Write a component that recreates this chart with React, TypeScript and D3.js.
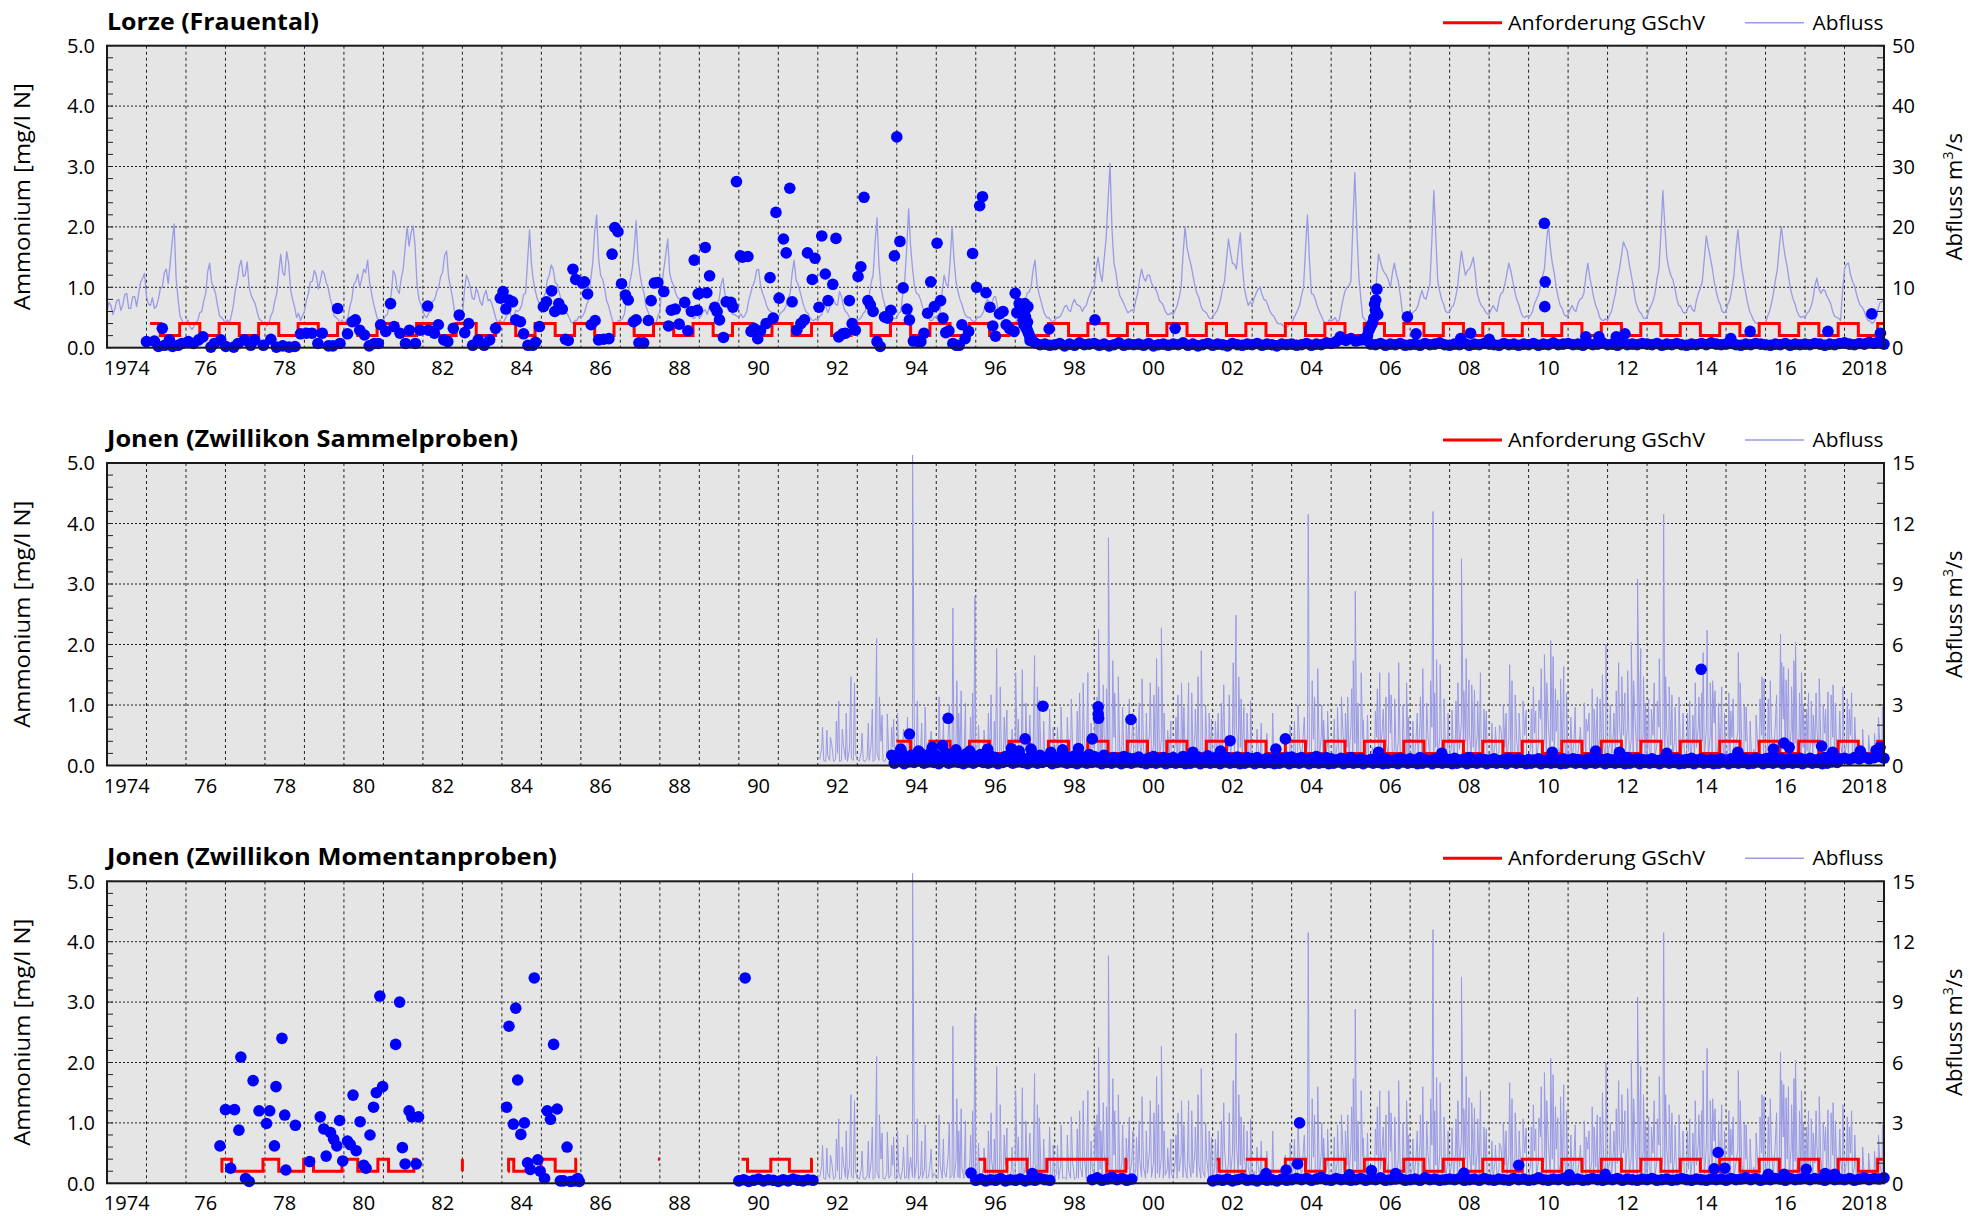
import React from "react";
import * as d3 from "d3";

type P = [number, number];

// ---------------- DATA ----------------
const xTickYears = [1974, 1976, 1978, 1980, 1982, 1984, 1986, 1988, 1990, 1992, 1994, 1996, 1998, 2000, 2002, 2004, 2006, 2008, 2010, 2012, 2014, 2016, 2018];
const xTickLabels = ["1974", "76", "78", "80", "82", "84", "86", "88", "90", "92", "94", "96", "98", "00", "02", "04", "06", "08", "10", "12", "14", "16", "2018"];
const leftTicks = [0, 1, 2, 3, 4, 5];
const leftTickLabels = ["0.0", "1.0", "2.0", "3.0", "4.0", "5.0"];
const lorzeFlowTicks = [0, 10, 20, 30, 40, 50];
const jonenFlowTicks = [0, 3, 6, 9, 12, 15];

// Lorze discharge (m3/s), every 0.1 year from 1974.0
const lorzeFlowStart = 1974;
const lorzeFlowStep = 0.1;
const lorzeFlow = [
  6, 7, 6.5, 8, 7, 9, 6.5, 8.5, 9, 11.5,
  8.5, 7, 6.5, 8, 10, 13, 14, 20.5, 8, 4.5,
  4, 3.5, 3.5, 4.5, 6, 9, 14, 10, 7, 5,
  4, 4, 7, 11, 14.5, 12, 10, 8, 6, 4.5,
  4, 4, 6, 9, 15.5, 12, 14, 8, 5, 4.5,
  6, 9, 11, 12, 11, 12.3, 10, 7, 5, 4,
  4, 5, 8, 11, 10, 13, 14.5, 9, 6, 4.5,
  4.5, 5.5, 9, 12, 9, 13, 20, 19, 17, 8,
  6, 5, 6, 8, 10, 12.5, 16, 10, 6, 4,
  5, 12, 10, 8, 9, 7, 9.5, 8, 6, 4,
  4, 5, 6, 5, 6, 7, 9, 19.5, 11, 8,
  7, 9, 12, 13, 10.5, 8, 6, 5, 4, 4.5,
  5, 6, 8, 14, 22, 12, 10, 7, 4.5, 4,
  4.5, 5.5, 9, 13, 21, 12, 9, 6, 4.5, 4,
  6, 13, 18, 11, 9, 8, 7, 6, 5.5, 5,
  5, 6, 5.5, 7, 6, 8, 11.5, 8, 6, 5.5,
  5, 5, 6, 9, 11, 13, 9, 7, 6, 5,
  5, 6, 7, 9, 14.5, 10.5, 8, 6, 5, 4.5,
  4.5, 5.5, 7, 6.5, 8, 7, 8.5, 6, 5, 4.5,
  4.5, 5, 6, 8.5, 12, 21.5, 10, 7, 5, 5,
  5, 6, 11, 23, 13, 9, 8, 6, 5, 4.5,
  5, 6, 12, 10, 20, 11, 8, 6, 5, 4.5,
  4.5, 5, 6, 8, 7, 8.5, 6, 5, 4.5, 4,
  4, 5, 6, 9, 10, 14.5, 9, 6.5, 5, 4.5,
  4.5, 5, 6, 7, 6, 8, 7, 6, 7, 9,
  10, 15, 11, 18, 30.5, 14, 10, 8, 6.5, 6,
  6, 9, 13, 11, 12, 10, 9, 7.5, 6, 5.5,
  5.5, 7, 10, 20, 15, 12, 9, 7, 6, 5,
  5, 6, 8, 11, 18, 14, 13, 19, 10, 7,
  7, 9, 10, 8, 7, 5.5, 4.5, 4, 3.5, 3.5,
  4, 5.5, 7, 10, 22, 9, 8, 6, 4.5, 4,
  4.5, 5, 4.5, 8, 10, 11, 29, 12, 5, 4,
  4, 6, 15.5, 13, 12, 10, 14, 11, 6, 5,
  5, 6, 7, 9.5, 8, 10.5, 26, 11, 8, 6,
  6, 7, 10, 16, 12, 13, 15, 9, 7, 6,
  5.5, 7, 6, 9, 10.5, 14, 11, 8, 6, 5,
  5, 6, 8, 10, 13, 20.5, 14, 10, 7, 5.5,
  5.5, 7, 6, 8, 9, 14, 10, 7, 5, 4.5,
  4.5, 6, 9, 13, 17.5, 16, 12, 8, 6, 5,
  5, 7, 9, 13, 26, 15, 12, 10, 7, 6,
  6, 7, 6, 9, 11, 18.5, 15, 11, 8, 6,
  6, 8, 12, 19.5, 13, 9, 6, 4.5, 4, 4,
  4, 6, 9, 13, 20, 15, 11, 8, 6, 5,
  5, 6, 8, 11.5, 9, 9.5, 8, 6, 5, 4.5,
  13, 14, 11, 9, 7, 6, 4.5, 4, 5, 7.5,
  8,
];
// Lorze discharge between the values above (at 1974.05, 1974.15, ...)
const lorzeFlowMidStart = 1974.05;
const lorzeFlowMid = [
  7.5, 5.5, 7.8, 6.2, 8.8, 6.5, 8.4, 6.8, 10.8, 12.3,
  7.2, 8.3, 6.8, 9.8, 12.4, 10.6, 17.5, 11.5, 5.2, 3.8,
  4.6, 3.0, 4.2, 5.8, 7.8, 12.6, 10.8, 8.9, 5.3, 4.6,
  4.6, 5.4, 9.5, 13.4, 11.8, 14.2, 8.7, 7.3, 4.8, 4.2,
  3.6, 5.3, 7.8, 12.5, 12.4, 15.9, 9.6, 6.8, 5.7, 5.3,
  7.8, 10.9, 12.8, 9.7, 12.7, 10.8, 8.2, 5.3, 4.7, 4.6,
  4.4, 6.8, 10.5, 12.2, 11.4, 12.4, 10.8, 7.3, 4.8, 4.1,
  5.3, 7.2, 12.8, 9.6, 11.4, 16.5, 16.8, 20.2, 10.6, 7.2,
  5.3, 5.8, 7.7, 9.3, 11.8, 15.3, 11.7, 8.3, 4.8, 4.7,
  9.4, 11.2, 8.2, 9.8, 7.6, 8.7, 7.8, 7.2, 4.8, 4.6,
  4.3, 5.7, 4.8, 6.2, 6.3, 8.8, 14.3, 13.7, 9.3, 7.4,
  8.3, 11.2, 13.7, 10.8, 9.2, 6.8, 5.7, 4.3, 4.5, 5.2,
  5.3, 7.2, 11.3, 19.2, 14.8, 11.3, 7.8, 5.7, 3.8, 4.5,
  4.8, 7.7, 11.2, 16.3, 14.7, 10.2, 6.8, 5.2, 3.9, 5.2,
  10.2, 15.4, 12.3, 10.3, 8.3, 7.8, 6.3, 6.0, 4.8, 5.5,
  5.3, 6.3, 6.7, 6.3, 7.3, 10.4, 8.8, 7.3, 5.5, 5.2,
  5.6, 5.3, 7.8, 10.2, 12.8, 10.3, 8.2, 6.3, 5.8, 4.8,
  5.7, 6.3, 8.2, 12.3, 11.2, 9.3, 6.8, 5.7, 4.6, 4.8,
  5.2, 6.8, 5.8, 7.8, 7.2, 9.3, 6.8, 5.7, 4.6, 4.8,
  4.7, 5.7, 7.3, 10.8, 17.2, 13.6, 8.3, 5.8, 5.5, 4.8,
  5.7, 8.7, 16.2, 16.8, 10.2, 8.8, 6.8, 5.7, 4.5, 5.1,
  5.4, 9.3, 10.6, 14.2, 14.6, 9.3, 7.2, 5.3, 5.0, 4.3,
  5.1, 5.4, 7.3, 7.2, 8.3, 6.8, 5.6, 4.6, 4.4, 3.8,
  4.7, 5.3, 7.7, 9.2, 12.8, 10.6, 7.8, 5.5, 5.0, 4.3,
  5.0, 5.3, 6.8, 6.2, 7.3, 7.2, 6.8, 6.7, 8.2, 9.8,
  13.2, 12.3, 14.6, 24.3, 19.6, 12.4, 8.6, 7.3, 5.8, 6.3,
  7.8, 11.4, 11.6, 12.0, 10.7, 9.8, 7.8, 7.0, 5.5, 5.8,
  6.2, 8.3, 15.4, 16.6, 13.7, 10.2, 8.3, 6.2, 5.7, 4.8,
  5.6, 6.8, 9.8, 14.6, 15.8, 13.8, 16.3, 13.7, 8.3, 7.6,
  8.2, 9.7, 8.8, 7.8, 6.0, 5.2, 4.0, 3.9, 3.3, 4.0,
  4.8, 6.2, 8.7, 16.3, 14.6, 8.8, 6.8, 5.3, 4.0, 4.6,
  4.6, 4.3, 6.3, 9.3, 10.2, 20.3, 19.6, 8.2, 4.7, 3.8,
  5.2, 11.3, 14.2, 12.4, 11.2, 12.3, 12.2, 8.8, 5.3, 5.2,
  5.7, 6.3, 8.4, 8.3, 9.3, 17.7, 18.4, 9.3, 7.2, 5.8,
  6.7, 8.3, 13.2, 13.8, 12.8, 13.8, 12.3, 7.8, 6.7, 5.6,
  6.3, 6.4, 7.8, 9.2, 12.3, 12.7, 9.3, 7.2, 5.2, 5.3,
  5.4, 7.3, 8.8, 11.8, 17.3, 16.6, 12.3, 8.3, 6.5, 5.2,
  6.3, 6.3, 7.3, 8.2, 11.8, 11.6, 8.3, 6.2, 4.6, 4.8,
  5.4, 7.6, 11.4, 15.2, 16.7, 13.8, 10.2, 6.8, 5.7, 4.8,
  6.3, 7.7, 11.3, 18.8, 20.2, 13.2, 11.3, 8.2, 6.8, 5.7,
  6.8, 6.3, 7.8, 9.8, 14.8, 16.6, 13.2, 9.3, 7.2, 5.8,
  7.3, 9.8, 16.3, 15.8, 11.2, 7.3, 5.3, 4.1, 4.2, 3.8,
  5.2, 7.3, 11.2, 16.8, 17.2, 13.3, 9.2, 7.2, 5.3, 5.2,
  5.7, 6.8, 10.3, 9.8, 9.6, 8.6, 7.3, 5.2, 4.9, 9.2,
  13.8, 12.2, 10.3, 7.8, 6.7, 5.0, 4.4, 4.3, 6.4, 7.6,
];

// Jonen discharge (m3/s), every 0.05 year from 1992.05
const jonenFlowStart = 1992.05;
const jonenFlowStep = 0.05;
const jonenFlow = [
  .3, .9, .25, .2, .5, .25, 1.1, .2, .3, .6, .2, .25, 1.0, .3, .2, .8, .35, .25, .6,
  .3, .2, .7, .25, .2, .4, .25, 1.0, .2, .3, .6, .25, 1.2, .25, .2, .5, .25, .4, .9, .25,
  .25, .5, .2, .8, .25, .3, .2, 1.3, .3, .25, 1.0, .2, .4, .25, .7, .25, .3, 1.1, .25, .5,
  .3, .25, .9, .25, .6, .3, 1.4, .25, .4, .25, 1.1, .3, .25, .8, .25, .5, .3, 1.0, .25, .4,
  .25, .6, .2, .3, .9, .25, .5, .2, 1.2, .3, .25, .7, .2, .4, .25, .9, .2, .3, .6, .25,
  .3, 1.1, .25, .5, .25, .8, .3, 1.5, .25, .4, 1.0, .25, .3, .7, .2, .4, .25, .9, .3, .25,
  .25, .5, .2, .9, .25, .3, .2, .6, .25, 1.1, .2, .3, .25, .8, .3, 1.3, .25, .5, .25, .7,
  .35, 1.2, .3, .7, .35, 1.5, .3, .9, .3, .6, 1.4, .25, .5, .3, 1.0, .25, .4, .7, .3, 1.1,
  .3, .6, .25, 1.2, .3, .8, .25, .5, 1.6, .3, 1.0, .25, .5, .3, 1.3, .25, .4, .7, .25, .5,
  .3, 1.0, .25, .6, 1.4, .3, .8, .25, 1.1, .3, .5, 1.6, .3, .9, .25, .6, .3, 1.2, .25, .4,
  .25, .7, .3, 1.3, .25, .6, 1.7, .3, 1.0, .35, 1.5, .3, 2.0, .35, .9, .3, 1.4, .25, .8, .3,
  .25, .6, .2, .9, .25, .4, .2, .3, .5, .2, .25, .15, .3, .2, .25, .15, .4, .2, .7, .25,
  .3, .8, .25, .5, 1.1, .25, 1.8, .3, 1.0, .25, .6, 1.3, .25, .7, .3, 1.5, .25, .5, .9, .3,
  .25, .6, .25, 1.0, .3, .5, 1.6, .25, .9, .3, 1.9, .35, 1.1, .3, .7, .25, 1.3, .3, .6, .25,
  .3, .9, .25, 1.4, .3, .7, 2.0, .3, 1.1, .35, 1.6, .3, .8, .25, 1.2, .3, .6, 1.0, .25, .5,
  .3, .7, .25, 1.3, .3, 2.1, .35, 1.0, .3, 1.5, .35, 1.9, .3, .9, .25, 1.4, .3, .7, .25, 1.1,
  .3, 1.0, .25, 1.5, .3, .8, 2.2, .35, 1.2, .3, 1.7, .35, .9, .3, 1.6, .25, .7, .3, 1.1, .25,
  .25, .6, .25, 1.1, .3, .7, 1.8, .3, .9, .25, 1.4, .3, .6, .25, 1.2, .3, .8, .25, 1.5, .3,
  .3, .9, .25, 1.6, .35, 1.1, 2.3, .35, 1.3, .4, 2.0, .35, 1.2, .3, 1.7, .3, .9, .3, 1.4, .3,
  .25, .7, .25, 1.2, .3, .6, 1.5, .25, .9, .3, 1.7, .3, 1.1, .25, .8, .3, 1.6, .3, 1.0, .25,
  .3, 1.1, .3, 1.7, .35, 1.0, 2.2, .35, 1.5, .4, 1.9, .35, 1.3, .3, 2.1, .35, 1.2, .3, 1.6, .3,
  .3, .9, .3, 1.5, .35, 1.1, 1.9, .35, 1.3, .3, 1.7, .3, 1.0, .3, 1.4, .25, .8, .3, 1.2, .25,
  .25, .7, .25, 1.3, .3, .9, 2.0, .35, 1.2, .3, 1.8, .35, 1.5, .3, 2.1, .3, 1.0, .3, 1.4, .25,
  .3, .8, .25, 1.4, .3, 1.0, 1.7, .3, .9, .25, 1.2, .25, .6, .2, .8, .25, 1.1, .3, 1.5, .3,
  .3, 1.0, .3, 1.6, .35, 2.1, .4, 1.4, .35, 2.3, .4, 1.2, .35, 1.8, .3, 1.1, .3, 1.5, .3, .9,
  .25, .7, .25, 1.3, .3, 1.0, 1.9, .3, 1.2, .3, 1.6, .3, .9, .25, 1.4, .3, .8, .25, 1.2, .3,
  .3, 1.1, .3, 1.5, .3, .8, .25, .6, .25, .4, .2, .3, .2, .5, .2, .3, .6, .25, .9, .35,
  2.8,
];
// Jonen flood peaks [year, m3/s]
const jonenPeaks: P[] = [
  [1992.12, 1.9], [1992.23, 1.75], [1992.53, 3.2], [1992.84, 4.4], [1992.93, 4.1], [1993.28, 2.1], [1993.49, 6.3],
  [1993.63, 2.5], [1993.76, 2.55], [1994.02, 2.6], [1994.4, 15.4], [1994.63, 2.1], [1995.07, 3.4], [1995.42, 7.8],
  [1995.63, 3.7], [1995.74, 3.1], [1995.98, 8.4], [1996.21, 1.75], [1996.39, 3.5], [1996.53, 5.8], [1996.79, 2.75],
  [1997.01, 4.6], [1997.18, 4.75], [1997.49, 5.45], [1997.61, 3.25], [1997.96, 1.9], [1998.16, 2.9], [1998.72, 4.1],
  [1998.84, 4.6], [1999.02, 2.9], [1999.11, 6.75], [1999.23, 4.0], [1999.36, 11.3], [1999.61, 4.4], [1999.81, 2.25],
  [1999.98, 2.6], [2000.21, 4.3], [2000.51, 3.5], [2000.7, 6.8], [2000.86, 1.75], [2001.12, 3.5], [2001.21, 4.1],
  [2001.39, 4.1], [2001.71, 5.7], [2001.91, 2.6], [2002.14, 2.6], [2002.59, 7.45], [2002.79, 2.9], [2003.23, 2.1],
  [2003.84, 1.4], [2004.42, 12.45], [2004.81, 2.25], [2005.26, 3.4], [2005.42, 3.4], [2005.61, 8.65], [2005.81, 2.25],
  [2006.23, 4.6], [2006.39, 3.4], [2006.61, 3.3], [2006.91, 4.1], [2007.18, 2.6], [2007.58, 12.6], [2007.67, 5.25],
  [2008.06, 2.75], [2008.3, 10.25], [2008.49, 4.25], [2008.63, 3.75], [2008.93, 2.7], [2009.26, 2.0], [2009.52, 5.0],
  [2009.94, 2.75], [2010.26, 3.25], [2010.4, 5.5], [2010.56, 6.2], [2010.74, 3.25], [2010.89, 4.9], [2011.18, 2.9],
  [2011.53, 2.6], [2011.74, 3.4], [2011.96, 6.0], [2012.36, 4.4], [2012.6, 6.1], [2012.76, 9.25], [2012.84, 5.8],
  [2013.11, 2.8], [2013.42, 12.45], [2013.63, 3.5], [2014.02, 2.6], [2014.31, 3.4], [2014.52, 6.7], [2014.6, 4.1],
  [2014.89, 3.9], [2015.31, 5.6], [2015.51, 2.9], [2015.96, 4.3], [2016.38, 6.5], [2016.46, 4.9], [2016.52, 4.25],
  [2016.76, 6.1], [2016.91, 4.6], [2017.09, 3.6], [2017.28, 3.6], [2017.58, 3.65], [2017.71, 4.0], [2017.96, 3.9],
  [2018.86, 2.4],
];
// smaller Jonen freshets [year, m3/s]
const jonenFreshets: P[] = [
  [1992.32, 1.4], [1992.47, 2.2], [1992.62, 1.8], [1992.72, 2.6],
  [1993.12, 1.6], [1993.38, 2.8], [1993.56, 3.4], [1993.87, 1.9], [1993.92, 2.3],
  [1994.17, 1.8], [1994.27, 2.4], [1994.52, 3.2], [1994.72, 2.9], [1994.87, 1.7],
  [1995.18, 2.2], [1995.33, 3.0], [1995.52, 4.2], [1995.57, 2.6], [1995.87, 2.4], [1995.92, 3.6],
  [1996.07, 2.0], [1996.32, 2.6], [1996.47, 2.2], [1996.62, 3.9], [1996.72, 2.4], [1996.92, 1.8],
  [1997.08, 2.3], [1997.27, 3.1], [1997.37, 2.5], [1997.56, 3.9], [1997.72, 2.2], [1997.87, 2.8],
  [1998.07, 1.9], [1998.32, 2.4], [1998.42, 3.3], [1998.57, 2.7], [1998.63, 3.6], [1998.92, 2.1],
  [1999.07, 3.4], [1999.17, 2.6], [1999.31, 3.8], [1999.47, 5.2], [1999.52, 3.6], [1999.72, 2.9], [1999.89, 3.3],
  [2000.07, 2.3], [2000.14, 3.1], [2000.32, 2.6], [2000.42, 4.1], [2000.58, 5.3], [2000.63, 3.9], [2000.77, 2.6], [2000.94, 2.2],
  [2001.07, 2.4], [2001.27, 2.9], [2001.47, 3.6], [2001.56, 2.8], [2001.63, 4.4], [2001.82, 3.0], [2001.97, 2.3],
  [2002.07, 2.2], [2002.22, 3.1], [2002.28, 4.0], [2002.42, 3.5], [2002.52, 5.1], [2002.66, 4.4], [2002.72, 3.3], [2002.87, 2.6], [2002.96, 3.2],
  [2003.12, 1.8], [2003.37, 1.6], [2003.52, 2.6], [2003.96, 2.0],
  [2004.07, 2.2], [2004.16, 3.0], [2004.32, 2.4], [2004.52, 4.2], [2004.58, 3.4], [2004.66, 4.8], [2004.76, 3.0], [2004.91, 2.7],
  [2005.08, 2.3], [2005.16, 2.9], [2005.36, 2.6], [2005.52, 3.8], [2005.56, 5.2], [2005.68, 3.1], [2005.76, 4.6], [2005.92, 2.5],
  [2006.12, 2.7], [2006.17, 3.8], [2006.32, 2.8], [2006.46, 4.6], [2006.52, 3.5], [2006.71, 5.1], [2006.82, 3.0], [2006.96, 2.4],
  [2007.07, 2.2], [2007.26, 3.4], [2007.32, 4.8], [2007.42, 3.1], [2007.52, 4.2], [2007.62, 3.6], [2007.76, 5.0], [2007.86, 3.3], [2007.96, 2.6],
  [2008.16, 3.2], [2008.21, 4.1], [2008.36, 3.7], [2008.42, 5.3], [2008.56, 4.0], [2008.71, 3.2], [2008.78, 4.6], [2008.87, 2.8],
  [2009.07, 2.1], [2009.16, 1.9], [2009.36, 3.0], [2009.43, 2.6], [2009.58, 4.2], [2009.66, 3.5], [2009.76, 2.6], [2009.86, 3.2],
  [2010.07, 2.8], [2010.12, 3.9], [2010.18, 2.7], [2010.32, 4.8], [2010.46, 4.1], [2010.62, 5.4], [2010.68, 3.8], [2010.81, 4.3], [2010.96, 3.6],
  [2011.07, 2.4], [2011.31, 1.9], [2011.41, 3.1], [2011.46, 2.3], [2011.61, 3.8], [2011.66, 2.8], [2011.81, 3.3], [2011.87, 4.5],
  [2012.07, 3.0], [2012.16, 2.6], [2012.22, 3.7], [2012.28, 5.1], [2012.44, 3.6], [2012.51, 4.7], [2012.66, 4.2], [2012.91, 4.4], [2012.96, 3.1],
  [2013.04, 3.3], [2013.18, 4.1], [2013.26, 3.2], [2013.31, 5.3], [2013.47, 4.4], [2013.56, 3.9], [2013.71, 2.9], [2013.81, 3.4], [2013.91, 2.6],
  [2014.08, 3.2], [2014.16, 2.5], [2014.22, 4.1], [2014.38, 3.6], [2014.42, 5.6], [2014.66, 4.2], [2014.72, 3.7], [2014.81, 3.1], [2014.96, 2.6],
  [2015.07, 3.6], [2015.12, 2.7], [2015.18, 3.3], [2015.36, 4.1], [2015.46, 3.0], [2015.61, 2.2], [2015.76, 2.5], [2015.86, 3.3], [2015.91, 4.4],
  [2016.07, 3.3], [2016.12, 4.2], [2016.28, 3.5], [2016.41, 5.1], [2016.58, 4.8], [2016.66, 3.9], [2016.72, 5.2], [2016.86, 3.6], [2016.96, 3.0],
  [2017.04, 2.8], [2017.16, 3.2], [2017.21, 2.5], [2017.36, 4.3], [2017.46, 3.0], [2017.52, 2.8], [2017.66, 3.5], [2017.77, 3.1], [2017.88, 2.7],
  [2018.07, 3.3], [2018.12, 2.8], [2018.18, 3.6], [2018.26, 2.4], [2018.46, 1.8], [2018.61, 1.5], [2018.76, 1.6], [2018.96, 2.9],
];

// Lorze ammonium samples [year, mg/l N]
const lorzeSamples: P[] = [
  [1975.0, 0.1], [1975.2, 0.11], [1975.3, 0.02], [1975.4, 0.32], [1975.46, 0.04], [1975.58, 0.13], [1975.66, 0.02], [1975.8, 0.04],
  [1975.9, 0.07], [1976.06, 0.1], [1976.19, 0.07], [1976.32, 0.13], [1976.43, 0.18], [1976.63, 0.01], [1976.72, 0.07], [1976.88, 0.13],
  [1977.01, 0.02], [1977.21, 0.01], [1977.32, 0.07], [1977.48, 0.13], [1977.64, 0.04], [1977.74, 0.13], [1977.96, 0.04], [1978.15, 0.14],
  [1978.29, 0.01], [1978.45, 0.03], [1978.61, 0.01], [1978.76, 0.02], [1978.9, 0.23], [1979.05, 0.24], [1979.19, 0.24], [1979.34, 0.07],
  [1979.45, 0.24], [1979.61, 0.03], [1979.72, 0.03], [1979.84, 0.65], [1979.9, 0.07], [1980.09, 0.23], [1980.21, 0.43], [1980.29, 0.46],
  [1980.4, 0.29], [1980.52, 0.21], [1980.64, 0.03], [1980.77, 0.07], [1980.87, 0.07], [1980.93, 0.38], [1981.06, 0.27], [1981.18, 0.73],
  [1981.27, 0.35], [1981.42, 0.24], [1981.56, 0.07], [1981.66, 0.29], [1981.81, 0.07], [1981.93, 0.29], [1982.12, 0.69], [1982.14, 0.29],
  [1982.29, 0.24], [1982.39, 0.38], [1982.53, 0.13], [1982.63, 0.1], [1982.77, 0.32], [1982.92, 0.54], [1983.06, 0.25], [1983.16, 0.4],
  [1983.26, 0.04], [1983.4, 0.13], [1983.55, 0.04], [1983.69, 0.13], [1983.84, 0.32], [1983.96, 0.82], [1984.03, 0.93], [1984.1, 0.64],
  [1984.18, 0.79], [1984.27, 0.76], [1984.35, 0.46], [1984.47, 0.43], [1984.55, 0.23], [1984.66, 0.04], [1984.78, 0.04], [1984.85, 0.09],
  [1984.95, 0.35], [1985.05, 0.68], [1985.13, 0.76], [1985.26, 0.94], [1985.34, 0.6], [1985.44, 0.73], [1985.53, 0.64], [1985.61, 0.14],
  [1985.68, 0.12], [1985.8, 1.3], [1985.87, 1.13], [1986.04, 1.07], [1986.09, 1.09], [1986.17, 0.89], [1986.26, 0.38], [1986.36, 0.45],
  [1986.45, 0.13], [1986.58, 0.14], [1986.71, 0.15], [1986.79, 1.55], [1986.86, 1.99], [1986.94, 1.92], [1987.03, 1.06], [1987.13, 0.87],
  [1987.2, 0.79], [1987.33, 0.43], [1987.4, 0.46], [1987.47, 0.08], [1987.59, 0.08], [1987.71, 0.45], [1987.78, 0.78], [1987.86, 1.07],
  [1987.95, 1.08], [1988.1, 0.93], [1988.22, 0.36], [1988.29, 0.62], [1988.39, 0.64], [1988.49, 0.39], [1988.63, 0.75], [1988.71, 0.28],
  [1988.8, 0.6], [1988.87, 1.45], [1988.97, 0.89], [1988.95, 0.62], [1989.0, 0.9], [1989.15, 1.66], [1989.19, 0.91], [1989.26, 1.19],
  [1989.39, 0.67], [1989.45, 0.6], [1989.51, 0.46], [1989.61, 0.17], [1989.68, 0.76], [1989.8, 0.75], [1989.85, 0.67], [1989.94, 2.75],
  [1990.04, 1.52], [1990.09, 1.5], [1990.23, 1.51], [1990.31, 0.27], [1990.38, 0.32], [1990.48, 0.15], [1990.55, 0.28], [1990.69, 0.4],
  [1990.79, 1.16], [1990.87, 0.49], [1990.94, 2.24], [1991.02, 0.82], [1991.13, 1.8], [1991.2, 1.57], [1991.29, 2.64], [1991.35, 0.76],
  [1991.47, 0.29], [1991.57, 0.4], [1991.66, 0.46], [1991.74, 1.57], [1991.86, 1.13], [1991.93, 1.48], [1992.03, 0.67], [1992.1, 1.85],
  [1992.19, 1.22], [1992.26, 0.78], [1992.38, 1.05], [1992.46, 1.81], [1992.53, 0.18], [1992.63, 0.23], [1992.7, 0.24], [1992.8, 0.78],
  [1992.87, 0.4], [1992.95, 0.29], [1993.02, 1.18], [1993.09, 1.34], [1993.17, 2.49], [1993.27, 0.78], [1993.33, 0.71], [1993.4, 0.6],
  [1993.5, 0.1], [1993.58, 0.02], [1993.69, 0.51], [1993.77, 0.49], [1993.85, 0.62], [1993.94, 1.52], [1994.0, 3.49], [1994.08, 1.76],
  [1994.16, 0.99], [1994.26, 0.64], [1994.32, 0.46], [1994.42, 0.11], [1994.55, 0.1], [1994.61, 0.1], [1994.69, 0.24], [1994.78, 0.57],
  [1994.86, 1.09], [1994.95, 0.68], [1995.02, 1.73], [1995.11, 0.78], [1995.17, 0.49], [1995.24, 0.25], [1995.32, 0.28], [1995.42, 0.07],
  [1995.51, 0.04], [1995.58, 0.04], [1995.65, 0.38], [1995.73, 0.15], [1995.82, 0.27], [1995.92, 1.56], [1996.02, 1.0], [1996.1, 2.35],
  [1996.17, 2.5], [1996.26, 0.91], [1996.36, 0.67], [1996.43, 0.36], [1996.5, 0.19], [1996.6, 0.56], [1996.69, 0.6], [1996.77, 0.38],
  [1996.85, 0.32], [1996.97, 0.27], [1997.0, 0.9], [1997.04, 0.58], [1997.1, 0.73], [1997.15, 0.62], [1997.18, 0.57], [1997.2, 0.45],
  [1997.22, 0.38], [1997.24, 0.73], [1997.26, 0.51], [1997.27, 0.33], [1997.28, 0.65], [1997.3, 0.3], [1997.31, 0.42], [1997.32, 0.68],
  [1997.33, 0.25], [1997.36, 0.2], [1997.39, 0.15], [1997.42, 0.12],
  [1997.86, 0.31], [1999.02, 0.46], [2001.05, 0.32], [2005.23, 0.18], [2005.87, 0.13], [2005.92, 0.2], [2005.96, 0.29], [2006.0, 0.35],
  [2006.04, 0.4], [2006.08, 0.49], [2006.12, 0.62], [2006.1, 0.72], [2006.13, 0.79], [2006.16, 0.97], [2006.18, 0.55], [2006.93, 0.51],
  [2007.15, 0.23], [2008.28, 0.15], [2008.53, 0.24], [2009.0, 0.14], [2010.4, 2.06], [2010.42, 1.09], [2010.41, 0.68], [2011.45, 0.18],
  [2011.78, 0.18], [2012.22, 0.18], [2012.44, 0.23], [2015.12, 0.15], [2015.61, 0.27], [2017.58, 0.27], [2018.69, 0.56], [2018.91, 0.24],
];
// Lorze routine samples after 1997 (every 0.125 year from 1997.375)
const bandStep = 0.125;
const lorzeBandStart = 1997.375;
const lorzeBand = [
  0.12, 0.08, 0.05, 0.06, 0.04,
  0.05, 0.07, 0.03, 0.06, 0.04, 0.08, 0.05, 0.06,
  0.07, 0.04, 0.06, 0.03, 0.05, 0.08, 0.04, 0.06,
  0.05, 0.06, 0.04, 0.07, 0.03, 0.05, 0.06, 0.04,
  0.06, 0.05, 0.08, 0.04, 0.06, 0.03, 0.05, 0.07,
  0.04, 0.06, 0.05, 0.03, 0.07, 0.05, 0.04, 0.06,
  0.05, 0.07, 0.04, 0.06, 0.05, 0.03, 0.06, 0.05,
  0.06, 0.04, 0.05, 0.07, 0.04, 0.06, 0.05, 0.08,
  0.07, 0.10, 0.14, 0.12, 0.15, 0.11, 0.13, 0.16,
  0.06, 0.05, 0.07, 0.04, 0.06, 0.05, 0.07, 0.04,
  0.05, 0.06, 0.04, 0.07, 0.05, 0.06, 0.08, 0.05,
  0.04, 0.06, 0.05, 0.07, 0.04, 0.06, 0.05, 0.07,
  0.06, 0.05, 0.04, 0.07, 0.05, 0.06, 0.04, 0.06,
  0.05, 0.07, 0.04, 0.06, 0.05, 0.08, 0.05, 0.06,
  0.07, 0.05, 0.06, 0.04, 0.07, 0.05, 0.06, 0.08,
  0.05, 0.06, 0.04, 0.07, 0.05, 0.06, 0.05, 0.07,
  0.06, 0.05, 0.07, 0.04, 0.06, 0.05, 0.07, 0.05,
  0.04, 0.06, 0.05, 0.07, 0.05, 0.08, 0.06, 0.05,
  0.06, 0.07, 0.05, 0.04, 0.06, 0.05, 0.07, 0.06,
  0.05, 0.04, 0.06, 0.05, 0.07, 0.04, 0.06, 0.05,
  0.06, 0.05, 0.07, 0.06, 0.04, 0.06, 0.05, 0.07,
  0.08, 0.06, 0.05, 0.07, 0.06, 0.09, 0.07, 0.1,
  0.06,
];

// Jonen composite samples (every 0.125 year from 1993.875)
const sammelBandStart = 1993.875;
const sammelBand = [
  0.17,
  0.15, 0.21, 0.11, 0.17, 0.13, 0.19, 0.15, 0.23,
  0.17, 0.13, 0.2, 0.11, 0.16, 0.14, 0.19, 0.12,
  0.15, 0.18, 0.11, 0.16, 0.13, 0.09, 0.15, 0.17,
  0.13, 0.16, 0.1, 0.14, 0.12, 0.17, 0.11, 0.15,
  0.12, 0.15, 0.09, 0.13, 0.16, 0.11, 0.14, 0.18,
  0.15, 0.12, 0.17, 0.1, 0.13, 0.11, 0.15, 0.12,
  0.11, 0.14, 0.09, 0.12, 0.15, 0.1, 0.13, 0.11,
  0.13, 0.1, 0.15, 0.12, 0.09, 0.14, 0.11, 0.16,
  0.12, 0.15, 0.1, 0.13, 0.11, 0.14, 0.09, 0.13,
  0.11, 0.13, 0.09, 0.12, 0.1, 0.08, 0.11, 0.13,
  0.14, 0.11, 0.13, 0.09, 0.12, 0.15, 0.1, 0.13,
  0.11, 0.09, 0.12, 0.1, 0.13, 0.09, 0.11, 0.08,
  0.1, 0.12, 0.09, 0.11, 0.08, 0.1, 0.12, 0.09,
  0.11, 0.09, 0.13, 0.1, 0.08, 0.11, 0.09, 0.12,
  0.1, 0.12, 0.09, 0.11, 0.13, 0.09, 0.11, 0.1,
  0.09, 0.11, 0.08, 0.1, 0.12, 0.09, 0.11, 0.08,
  0.1, 0.09, 0.11, 0.08, 0.1, 0.12, 0.09, 0.11,
  0.09, 0.11, 0.1, 0.08, 0.11, 0.09, 0.12, 0.1,
  0.11, 0.09, 0.12, 0.1, 0.13, 0.09, 0.11, 0.1,
  0.09, 0.11, 0.08, 0.1, 0.12, 0.09, 0.11, 0.09,
  0.1, 0.12, 0.09, 0.11, 0.08, 0.1, 0.09, 0.11,
  0.09, 0.11, 0.1, 0.08, 0.11, 0.09, 0.12, 0.1,
  0.11, 0.13, 0.1, 0.12, 0.09, 0.11, 0.1, 0.12,
  0.1, 0.12, 0.09, 0.11, 0.13, 0.1, 0.12, 0.11,
  0.12, 0.1, 0.13, 0.11, 0.14, 0.11, 0.13, 0.15,
  0.12,
];
const sammelLowStart = 1993.9375;
const sammelLow = [
  0.04, 0.07, 0.03, 0.06, 0.05, 0.08, 0.04, 0.06, 0.05, 0.03, 0.07, 0.04, 0.06, 0.05, 0.03, 0.06, 0.04, 0.07, 0.05, 0.04,
  0.06, 0.03, 0.05, 0.07, 0.04, 0.06, 0.05, 0.03, 0.06, 0.04, 0.05, 0.07, 0.03, 0.05, 0.06, 0.04, 0.05, 0.03, 0.06, 0.04,
  0.05, 0.06, 0.03, 0.05, 0.04, 0.06, 0.03, 0.05, 0.04, 0.06, 0.05, 0.03, 0.05, 0.04, 0.06, 0.03, 0.05, 0.04, 0.05, 0.03,
  0.04, 0.06, 0.03, 0.05, 0.04, 0.05, 0.03, 0.06, 0.04, 0.05, 0.03, 0.04, 0.06, 0.03, 0.05, 0.04, 0.05, 0.03, 0.04, 0.06,
  0.03, 0.05, 0.04, 0.06, 0.03, 0.05, 0.04, 0.05, 0.03, 0.04, 0.06, 0.03, 0.05, 0.04, 0.05, 0.03, 0.06, 0.04, 0.05, 0.03,
  0.04, 0.05, 0.03, 0.06, 0.04, 0.05, 0.03, 0.04, 0.06, 0.03, 0.05, 0.04, 0.05, 0.03, 0.04, 0.06, 0.03, 0.05, 0.04, 0.06,
  0.03, 0.05, 0.04, 0.05, 0.03, 0.06, 0.04, 0.05, 0.03, 0.04, 0.06, 0.03, 0.05, 0.04, 0.05, 0.03, 0.04, 0.06, 0.04, 0.05,
  0.03, 0.05, 0.04, 0.06, 0.03, 0.05, 0.04, 0.05, 0.03, 0.04, 0.06, 0.03, 0.05, 0.04, 0.05, 0.03, 0.06, 0.04, 0.05, 0.03,
  0.04, 0.05, 0.03, 0.06, 0.04, 0.05, 0.03, 0.04, 0.06, 0.03, 0.05, 0.04, 0.05, 0.03, 0.04, 0.06, 0.03, 0.05, 0.04, 0.06,
  0.03, 0.05, 0.04, 0.05, 0.03, 0.06, 0.04, 0.05, 0.03, 0.04, 0.06, 0.05,
];
const sammelSamples: P[] = [
  [1994.32, 0.52], [1995.3, 0.78], [1995.16, 0.33], [1997.25, 0.44], [1997.7, 0.98], [1998.95, 0.44], [1999.1, 0.97],
  [1999.1, 0.85], [1999.11, 0.78], [1999.93, 0.76], [2002.44, 0.41], [2003.84, 0.44], [2014.37, 1.59], [2016.47, 0.37],
  [2017.42, 0.32], [2018.8, 0.25],
  [1994.1, 0.27], [1994.55, 0.24], [1994.9, 0.3], [1995.5, 0.26], [1995.85, 0.24], [1996.3, 0.27], [1996.9, 0.28],
  [1997.1, 0.24], [1997.4, 0.27], [1997.9, 0.22], [1998.2, 0.26], [1998.6, 0.28], [2001.5, 0.22], [2002.2, 0.24],
  [2003.6, 0.27], [2006.2, 0.22], [2007.8, 0.2], [2010.6, 0.22], [2011.7, 0.24], [2012.3, 0.22], [2013.5, 0.2],
  [2015.3, 0.22], [2016.2, 0.27], [2016.6, 0.3], [2017.7, 0.22], [2018.4, 0.24], [2018.9, 0.3],
];

// Jonen grab samples
const momentSamples: P[] = [
  [1976.86, 0.62], [1977.0, 1.22], [1977.13, 0.25], [1977.23, 1.22], [1977.34, 0.88], [1977.39, 2.09], [1977.51, 0.08],
  [1977.6, 0.03], [1977.7, 1.7], [1977.85, 1.2], [1978.04, 0.99], [1978.12, 1.2], [1978.24, 0.62], [1978.28, 1.6],
  [1978.43, 2.4], [1978.5, 1.13], [1978.53, 0.22], [1978.77, 0.96], [1979.13, 0.36], [1979.4, 1.1], [1979.49, 0.9],
  [1979.55, 0.45], [1979.66, 0.84], [1979.74, 0.73], [1979.82, 0.62], [1979.89, 1.04], [1979.97, 0.37], [1980.09, 0.7],
  [1980.16, 0.64], [1980.23, 1.46], [1980.31, 0.54], [1980.41, 1.02], [1980.5, 0.3], [1980.56, 0.25], [1980.66, 0.8],
  [1980.75, 1.26], [1980.82, 1.5], [1980.91, 3.1], [1980.98, 1.6], [1981.31, 2.3], [1981.41, 3.0], [1981.48, 0.59],
  [1981.55, 0.32], [1981.65, 1.2], [1981.72, 1.1], [1981.83, 0.32], [1981.89, 1.1],
  [1984.12, 1.26], [1984.18, 2.6], [1984.29, 0.98], [1984.35, 2.9], [1984.4, 1.71], [1984.48, 0.81], [1984.57, 1.0],
  [1984.65, 0.34], [1984.72, 0.23], [1984.82, 3.4], [1984.91, 0.39], [1984.97, 0.2], [1985.08, 0.08], [1985.15, 1.2],
  [1985.23, 1.06], [1985.31, 2.3], [1985.4, 1.23], [1985.48, 0.04], [1985.56, 0.04], [1985.65, 0.6], [1985.74, 0.03],
  [1985.84, 0.04], [1985.92, 0.08], [1985.96, 0.03],
  [1990.16, 3.4], [2003.86, 0.22], [2004.15, 0.32], [2004.2, 1.0], [2006.02, 0.21], [2009.75, 0.3], [2014.7, 0.24],
  [2014.8, 0.51], [2014.97, 0.25], [2017.03, 0.23], [2017.51, 0.16],
  [1995.88, 0.17], [1997.43, 0.16], [2003.35, 0.16], [2005.46, 0.14], [2006.63, 0.16], [2008.36, 0.17], [2011.03, 0.14],
  [2011.94, 0.15], [2016.07, 0.15], [2016.47, 0.15], [2017.75, 0.15],
];
const momentBandStarts = [1990.0, 1996.0, 1998.95, 2002.0, 2004.25, 2014.875];
const momentBandValues = [
  [0.04, 0.06, 0.03, 0.05, 0.07, 0.04, 0.06, 0.05, 0.03, 0.06, 0.04, 0.07, 0.05, 0.04, 0.06, 0.05],
  [0.05, 0.07, 0.04, 0.06, 0.05, 0.08, 0.04, 0.06, 0.05, 0.07, 0.04, 0.06, 0.05, 0.08, 0.06, 0.05],
  [0.06, 0.09, 0.05, 0.07, 0.1, 0.06, 0.08, 0.05, 0.07],
  [0.04, 0.06, 0.05, 0.07, 0.04, 0.06, 0.08, 0.05, 0.06, 0.04, 0.07, 0.05, 0.06, 0.04, 0.07, 0.05, 0.06, 0.08],
  [0.06, 0.08, 0.05, 0.07, 0.1, 0.06, 0.05, 0.08, 0.06, 0.07, 0.05, 0.06, 0.08, 0.05, 0.07, 0.06, 0.09, 0.05, 0.06, 0.07,
   0.08, 0.05, 0.06, 0.07, 0.05, 0.09, 0.06, 0.07, 0.05, 0.06, 0.07, 0.06, 0.08, 0.05, 0.06, 0.07, 0.05, 0.08, 0.06, 0.05,
   0.07, 0.06, 0.05, 0.08, 0.06, 0.07, 0.05, 0.06, 0.09, 0.06, 0.05, 0.07, 0.06, 0.08, 0.05, 0.06, 0.07, 0.05, 0.06, 0.08,
   0.06, 0.05, 0.07, 0.06, 0.08, 0.05, 0.07, 0.06, 0.05, 0.07, 0.06, 0.08, 0.05, 0.06, 0.07, 0.05, 0.06, 0.08, 0.06, 0.05,
   0.07, 0.06, 0.05, 0.07, 0.06],
  [0.07, 0.05, 0.08, 0.06, 0.07, 0.09, 0.06, 0.08, 0.05, 0.07, 0.06, 0.08, 0.07, 0.05, 0.08, 0.06, 0.07, 0.09, 0.06, 0.08,
   0.07, 0.05, 0.08, 0.06, 0.07, 0.06, 0.08, 0.05, 0.07, 0.09, 0.06, 0.08, 0.07, 0.09],
];

// GSchV requirement: 0.4 mg/l in the cold season, 0.2 mg/l in the warm season
const limitWinter = 0.4;
const limitSummer = 0.2;
const summerFrom = 0.35;
const winterFrom = 0.84;
const lorzeLimitRange = [1975.09, 2019.0];
const sammelLimitRange = [1994.0, 2019.0];
const momentLimitSegments: P[][] = [
  [[1976.88, 0.2], [1976.91, 0.4], [1977.15, 0.2], [1977.95, 0.4], [1978.35, 0.2], [1978.98, 0.4], [1979.23, 0.2],
   [1979.95, 0.4], [1980.35, 0.2], [1980.86, 0.4], [1981.13, 0.2], [1981.77, 0.4], [1981.87, 0.4]],
  [[1983.0, 0.2], [1983.0, 0.4]],
  [[1984.15, 0.2], [1984.17, 0.4], [1984.3, 0.2], [1984.99, 0.4], [1985.35, 0.2], [1985.87, 0.4], [1985.9, 0.4]],
  [[1987.95, 0.4], [1988.0, 0.4]],
  [[1990.07, 0.4], [1990.22, 0.2], [1990.81, 0.4], [1991.28, 0.2], [1991.84, 0.4], [1991.87, 0.4]],
  [[1996.07, 0.4], [1996.23, 0.2], [1996.79, 0.4], [1997.3, 0.2], [1997.8, 0.4], [1999.32, 0.2], [1999.8, 0.4], [1999.83, 0.4]],
  [[2002.1, 0.4], [2002.16, 0.2], [2002.84, 0.2]],
];
const momentLimitRange = [2002.84, 2018.97];

// ---------------- HELPERS ----------------
function seasonal(t0: number, t1: number): P[] {
  const v = (t: number) => {
    const f = t - Math.floor(t);
    return f >= summerFrom && f < winterFrom ? limitSummer : limitWinter;
  };
  const pts: P[] = [[t0, v(t0 + 1e-6)]];
  for (let y = Math.floor(t0); y <= Math.ceil(t1); y++) {
    for (const f of [summerFrom, winterFrom]) {
      const t = y + f;
      if (t > t0 && t < t1) pts.push([t, v(t + 1e-6)]);
    }
  }
  pts.push([t1, v(t1 - 1e-6)]);
  return pts;
}
const gridSeries = (start: number, step: number, vals: number[]): P[] => vals.map((v, i) => [start + i * step, v]);
const byTime = (a: P, b: P) => a[0] - b[0];

const lorzeFlowSeries = [
  ...gridSeries(lorzeFlowStart, lorzeFlowStep, lorzeFlow),
  ...gridSeries(lorzeFlowMidStart, lorzeFlowStep, lorzeFlowMid),
].sort(byTime);
const jonenFlowSeries = [...gridSeries(jonenFlowStart, jonenFlowStep, jonenFlow), ...jonenPeaks, ...jonenFreshets].sort(byTime);

const FONT = "'Open Sans', 'Liberation Sans', 'DejaVu Sans', sans-serif";
const BLUE = "#0000ff";
const RED = "#ff0000";
const FLOW = "#9a9ae6";

const x = d3.scaleLinear().domain([1974, 2019]).range([107, 1884]);

interface PanelCfg {
  top: number; bottom: number; title: string; titleLen: number;
  rMax: number; rTicks: number[]; rMinor: number; flow: P[]; flowWidth: number;
  limits: P[][]; dots: P[];
}

function Panel({ c }: { c: PanelCfg }) {
  const yL = d3.scaleLinear().domain([0, 5]).range([c.bottom, c.top]);
  const yR = d3.scaleLinear().domain([0, c.rMax]).range([c.bottom, c.top]);
  const flowLine = d3.line<P>().x((d) => x(d[0])).y((d) => yR(d[1]));
  const limLine = d3.line<P>().x((d) => x(d[0])).y((d) => yL(d[1])).curve(d3.curveStepAfter);
  const L = x(1974), R = x(2019);
  const mid = (c.top + c.bottom) / 2;
  const years = d3.range(1975, 2019);
  const minorL = d3.range(0, 26).map((i) => i * 0.2);
  const minorR = d3.range(0, Math.round(c.rMax / c.rMinor) + 1).map((i) => i * c.rMinor);
  return (
    <g>
      <rect x={L} y={c.top} width={R - L} height={c.bottom - c.top} fill="#e5e5e5" />
      {years.map((yr) => (
        <line key={"v" + yr} x1={x(yr)} x2={x(yr)} y1={c.top} y2={c.bottom} stroke="#222" strokeWidth={1} strokeDasharray="3,3" />
      ))}
      {[1, 2, 3, 4].map((v) => (
        <line key={"h" + v} x1={L} x2={R} y1={yL(v)} y2={yL(v)} stroke="#222" strokeWidth={1} strokeDasharray="2,2" />
      ))}
      <path d={flowLine(c.flow) || ""} fill="none" stroke={FLOW} strokeWidth={c.flowWidth} strokeLinejoin="round" />
      {c.limits.map((seg, i) => (
        <path key={"l" + i} d={limLine(seg) || ""} fill="none" stroke={RED} strokeWidth={3} />
      ))}
      {c.dots.map((d, i) => (
        <circle key={"d" + i} cx={x(d[0])} cy={yL(d[1])} r={5.8} fill={BLUE} />
      ))}
      {minorL.map((v, i) => (
        <line key={"tl" + i} x1={L} x2={L + 6} y1={yL(v)} y2={yL(v)} stroke="#222" strokeWidth={1} />
      ))}
      {minorR.map((v, i) => (
        <line key={"tr" + i} x1={R - 7} x2={R} y1={yR(v)} y2={yR(v)} stroke="#222" strokeWidth={1} />
      ))}
      <rect x={L} y={c.top} width={R - L} height={c.bottom - c.top} fill="none" stroke="#1a1a1a" strokeWidth={2} />
      {leftTicks.map((v, i) => (
        <text key={"ll" + i} x={95} y={yL(v)} dy="0.36em" textAnchor="end" fontSize={20} fontFamily={FONT} fill="#000">
          {leftTickLabels[i]}
        </text>
      ))}
      {c.rTicks.map((v) => (
        <text key={"rl" + v} x={1892} y={yR(v)} dy="0.36em" textAnchor="start" fontSize={20} fontFamily={FONT} fill="#000">
          {String(v)}
        </text>
      ))}
      {xTickYears.map((yr, i) => (
        <text key={"xl" + yr} x={x(yr + 0.5)} y={c.bottom + 27} textAnchor="middle" fontSize={20} fontFamily={FONT} fill="#000">
          {xTickLabels[i]}
        </text>
      ))}
      <text x={107} y={c.top - 16} fontSize={24} fontWeight="bold" fontFamily={FONT} fill="#000"
        textLength={c.titleLen} lengthAdjust="spacingAndGlyphs">
        {c.title}
      </text>
      <line x1={1443} x2={1502} y1={c.top - 23} y2={c.top - 23} stroke={RED} strokeWidth={3} />
      <text x={1508} y={c.top - 16} fontSize={20.5} fontFamily={FONT} fill="#000" textLength={197} lengthAdjust="spacingAndGlyphs">
        Anforderung GSchV
      </text>
      <line x1={1745} x2={1804} y1={c.top - 23} y2={c.top - 23} stroke={FLOW} strokeWidth={1.5} />
      <text x={1812.5} y={c.top - 16} fontSize={20.5} fontFamily={FONT} fill="#000" textLength={71} lengthAdjust="spacingAndGlyphs">
        Abfluss
      </text>
      <text transform={`translate(29.5,${mid}) rotate(-90)`} textAnchor="middle" fontSize={22} fontFamily={FONT} fill="#000"
        textLength={227} lengthAdjust="spacingAndGlyphs">
        Ammonium [mg/l N]
      </text>
      <text transform={`translate(1962,${mid}) rotate(-90)`} textAnchor="middle" fontSize={22} fontFamily={FONT} fill="#000">
        Abfluss m<tspan dy={-9} fontSize={14}>3</tspan><tspan dy={9}>/s</tspan>
      </text>
    </g>
  );
}

export default function App() {
  const lorzeDots: P[] = [...lorzeSamples, ...gridSeries(lorzeBandStart, bandStep, lorzeBand)];
  const sammelDots: P[] = [
    ...gridSeries(sammelLowStart, bandStep, sammelLow),
    ...gridSeries(sammelBandStart, bandStep, sammelBand),
    ...sammelSamples,
  ];
  const momentDots: P[] = [
    ...momentBandStarts.flatMap((s, i) => gridSeries(s, bandStep, momentBandValues[i])),
    ...momentSamples,
  ];
  const panels: PanelCfg[] = [
    {
      top: 45.7, bottom: 347.7, title: "Lorze (Frauental)", titleLen: 212, rMax: 50, rTicks: lorzeFlowTicks, rMinor: 2,
      flow: lorzeFlowSeries, flowWidth: 1.3, limits: [seasonal(lorzeLimitRange[0], lorzeLimitRange[1])], dots: lorzeDots,
    },
    {
      top: 463, bottom: 765.5, title: "Jonen (Zwillikon Sammelproben)", titleLen: 411, rMax: 15, rTicks: jonenFlowTicks, rMinor: 1,
      flow: jonenFlowSeries, flowWidth: 1, limits: [seasonal(sammelLimitRange[0], sammelLimitRange[1])], dots: sammelDots,
    },
    {
      top: 881.3, bottom: 1183.3, title: "Jonen (Zwillikon Momentanproben)", titleLen: 450, rMax: 15, rTicks: jonenFlowTicks, rMinor: 1,
      flow: jonenFlowSeries, flowWidth: 1,
      limits: [...momentLimitSegments, seasonal(momentLimitRange[0], momentLimitRange[1])], dots: momentDots,
    },
  ];
  return (
    <svg width={1984} height={1216} style={{ position: "absolute", left: 0, top: 0, background: "#fff" }}>
      <rect width={1984} height={1216} fill="#fff" />
      {panels.map((p, i) => (
        <Panel key={i} c={p} />
      ))}
    </svg>
  );
}
